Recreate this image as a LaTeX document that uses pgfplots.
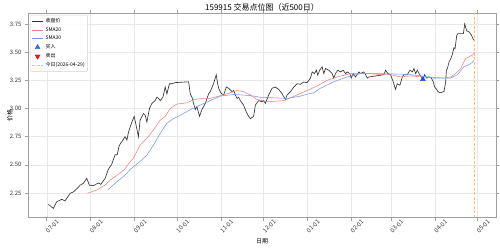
\documentclass[border=0pt]{standalone}
\usepackage{pgfplots}
\usepackage{pgfplotstable}
\pgfplotsset{compat=1.18}
\usepackage{fontspec}
\setmainfont{Noto Sans CJK SC}

% x = calendar days since 2025-07-01
\pgfplotstableread{
d p
1.1 2.150
4.7 2.114
7.1 2.173
10.6 2.194
12.9 2.180
16.5 2.247
18.8 2.260
22.3 2.300
23.5 2.320
25.9 2.336
27.1 2.360
28.3 2.380
30.1 2.320
32.9 2.315
36.5 2.340
38.2 2.327
41.2 2.380
43.5 2.460
45.9 2.507
48.3 2.590
49.8 2.590
50.9 2.660
52.0 2.690
53.0 2.705
55.3 2.750
56.6 2.720
57.7 2.790
60.1 2.880
61.7 2.930
63.1 2.850
64.7 2.750
65.9 2.897
68.3 2.956
69.5 2.940
70.7 2.880
72.5 3.000
74.2 3.045
76.5 3.070
77.7 3.100
78.9 3.090
80.1 3.070
82.0 3.100
83.6 3.190
84.8 3.130
86.6 3.220
88.3 3.220
90.7 3.230
100.1 3.237
101.3 3.130
102.5 3.100
104.8 2.990
106.0 3.015
107.8 2.930
109.5 2.990
111.9 3.045
114.2 3.130
115.4 3.150
117.7 3.220
119.6 3.300
120.6 3.220
121.3 3.180
123.0 3.135
124.8 3.120
126.7 3.190
128.3 3.180
130.7 3.150
131.9 3.160
133.1 3.120
134.3 3.090
135.4 3.100
136.6 3.070
138.9 3.030
140.8 2.970
142.5 2.930
143.7 2.910
146.0 2.930
147.2 3.030
149.5 3.070
151.9 3.060
153.1 3.070
154.3 3.045
156.6 3.120
159.0 3.180
161.3 3.190
163.7 3.170
166.1 3.130
168.4 3.080
169.6 3.120
172.0 3.150
174.3 3.190
176.7 3.220
179.0 3.215
181.3 3.235
183.7 3.230
186.1 3.270
187.3 3.325
188.9 3.310
190.3 3.340
191.2 3.296
192.6 3.340
194.3 3.370
195.5 3.310
196.7 3.355
199.0 3.340
201.4 3.310
202.5 3.270
203.7 3.310
205.4 3.340
207.3 3.325
209.2 3.340
210.8 3.310
212.0 3.325
213.9 3.310
214.8 3.270
216.3 3.310
217.9 3.280
220.2 3.325
221.4 3.310
223.7 3.325
225.0 3.300
226.2 3.270
227.3 3.280
237.9 3.300
239.1 3.340
240.7 3.310
242.6 3.300
244.5 3.237
246.1 3.170
247.3 3.220
249.2 3.207
250.9 3.280
252.0 3.300
254.4 3.300
256.3 3.340
258.0 3.325
259.1 3.355
260.3 3.310
261.5 3.340
262.7 3.310
264.3 3.280
265.4 3.260
266.6 3.300
268.1 3.270
269.7 3.280
271.4 3.270
272.8 3.237
273.7 3.190
275.1 3.170
276.0 3.150
277.5 3.140
280.3 3.150
281.5 3.237
282.0 3.340
282.7 3.355
283.8 3.410
285.0 3.440
286.2 3.480
287.3 3.540
288.1 3.530
289.3 3.650
290.2 3.665
294.0 3.665
294.9 3.750
296.3 3.690
298.0 3.680
299.7 3.650
301.1 3.610
302.0 3.600
}\closetable

\pgfplotstableread{
d p
28.7 2.247
35.3 2.277
41.2 2.320
44.7 2.365
48.3 2.395
53.0 2.440
55.3 2.465
57.7 2.510
61.2 2.560
65.9 2.675
70.7 2.735
75.3 2.810
80.1 2.897
83.6 2.930
87.1 3.000
91.9 3.040
98.9 3.050
103.6 3.080
110.7 3.090
115.4 3.090
121.3 3.110
127.2 3.130
134.3 3.160
138.9 3.150
143.7 3.120
148.4 3.080
155.5 3.060
167.2 3.070
176.7 3.120
183.7 3.160
190.8 3.200
197.9 3.250
205.0 3.280
214.3 3.310
226.2 3.310
237.9 3.300
242.6 3.300
249.7 3.280
256.7 3.290
263.8 3.280
273.2 3.276
280.3 3.270
285.0 3.280
288.5 3.310
292.1 3.355
295.6 3.445
298.0 3.460
300.4 3.475
302.0 3.500
}\smatwenty

\pgfplotstableread{
d p
43.1 2.277
49.5 2.350
55.3 2.410
58.9 2.460
61.2 2.483
65.9 2.530
70.7 2.587
75.3 2.675
80.1 2.780
84.8 2.870
89.5 2.910
96.5 2.956
101.3 2.990
108.3 3.030
115.4 3.070
122.5 3.110
131.9 3.125
143.7 3.115
150.7 3.100
160.1 3.095
169.6 3.090
179.0 3.110
184.9 3.130
188.4 3.140
193.1 3.180
202.5 3.237
212.0 3.280
221.4 3.310
233.2 3.310
249.7 3.305
256.7 3.300
263.8 3.290
273.2 3.270
280.3 3.270
285.0 3.270
289.8 3.300
294.4 3.370
298.0 3.390
300.4 3.410
302.0 3.440
}\smathirty

\definecolor{smared}{RGB}{242,125,125}
\definecolor{smablue}{RGB}{115,150,250}
\definecolor{buyblue}{RGB}{30,80,230}
\definecolor{todayorange}{RGB}{255,190,110}

\begin{document}
\begin{tikzpicture}
\begin{axis}[
  at={(0pt,0pt)}, anchor=south west,
  scale only axis,
  width=468pt, height=204.4pt,
  xmin=-13.2, xmax=317,
  ymin=2.031, ymax=3.845,
  axis line style={gray!75, line width=0.9pt},
  tick align=outside,
  major tick length=3pt,
  tick style={gray!75, line width=0.6pt},
  grid=major,
  grid style={gray!18, line width=0.4pt},
  xtick={0,31,62,92,123,153,184,215,243,274,304},
  xticklabels={07-01,08-01,09-01,10-01,11-01,12-01,01-01,02-01,03-01,04-01,05-01},
  xticklabel style={font=\fontsize{6}{6}\selectfont, rotate=45, anchor=center, yshift=-8pt, text=black!80},
  ytick={2.25,2.5,2.75,3,3.25,3.5,3.75},
  yticklabel style={font=\fontsize{6}{6}\selectfont, text=black!80},
  /pgf/number format/assume math mode=true,
  yticklabel={\pgfmathprintnumber[fixed, fixed zerofill, precision=2]{\tick}},
  title={159915 交易点位图（近500日）},
  title style={font=\fontsize{8}{8}\selectfont, at={(axis description cs:0.5,1)}, anchor=base, yshift=-3.5pt},
  ylabel={价格},
  ylabel style={font=\fontsize{6}{6}\selectfont, at={(axis description cs:-0.0385,0.5)}, anchor=center},
  xlabel={日期},
  xlabel style={font=\fontsize{6}{6}\selectfont, at={(axis description cs:0.5,-0.114)}, anchor=center},
  legend image code/.code={\draw[mark repeat=2,mark phase=2] plot coordinates {(0pt,0pt) (5.5pt,0pt) (11pt,0pt)};},
  legend style={at={(axis description cs:0.005,0.992)}, anchor=north west,
    font=\fontsize{5}{5}\selectfont, draw=gray!35, rounded corners=1pt,
    fill=white, fill opacity=0.85, text opacity=1,
    inner sep=1pt, row sep=-0.6pt, cells={anchor=west}},
  legend cell align=left,
]
\addplot[black, opacity=0.8, line width=0.65pt] table[x=d, y=p] {\closetable};
\addlegendentry{收盘价}
\addplot[smared, line width=0.55pt] table[x=d, y=p] {\smatwenty};
\addlegendentry{SMA20}
\addplot[smablue, line width=0.55pt] table[x=d, y=p] {\smathirty};
\addlegendentry{SMA30}
\addplot[only marks, mark=triangle*, mark size=2.8pt, color=buyblue] coordinates {(265.4,3.26)};
\addlegendentry{买入}
\addlegendimage{only marks, mark=triangle*, mark size=2.8pt, mark options={rotate=180}, color=red!85!black}
\addlegendentry{卖出}
\addplot[todayorange, line width=1.1pt, dash pattern=on 3pt off 1.5pt] coordinates {(302,2.031) (302,3.845)};
\addlegendentry{今日(2026-04-29)}
\end{axis}
\pgfresetboundingbox
\useasboundingbox (-28pt,-29.3pt) rectangle (472pt,217.7pt);
\end{tikzpicture}
\end{document}
